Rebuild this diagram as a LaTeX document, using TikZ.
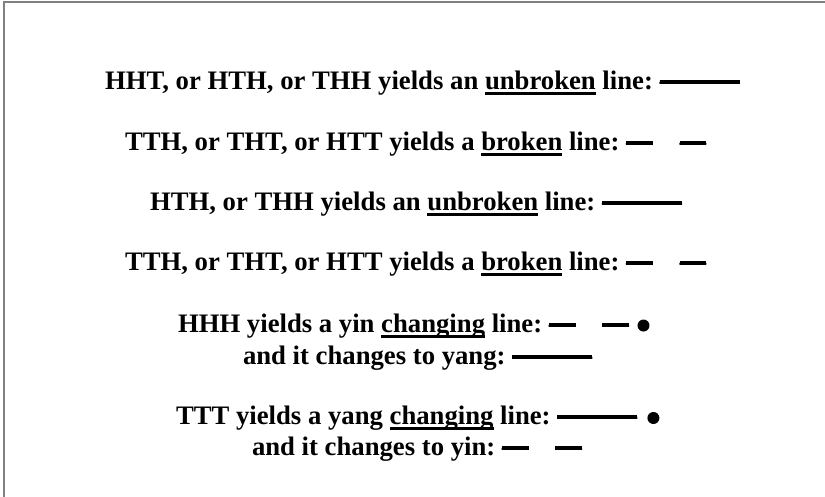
\documentclass[tikz,border=0pt]{standalone}
\usepackage{fontspec}
\setmainfont{Liberation Serif}
\frenchspacing
\newcommand\ulword[1]{\setbox0=\hbox{#1}\rlap{\rule[-6pt]{\wd0}{3pt}}\box0\relax}
\newcommand\emd{\rlap{\rule[5pt]{1em}{4pt}}—}
\begin{document}
\begin{tikzpicture}[x=1pt,y=-1pt,
  txt/.style={anchor=base west, inner sep=0pt, outer sep=0pt,
    font=\fontsize{26.7pt}{30pt}\selectfont\bfseries},
  dot/.style={circle, fill=black, inner sep=0pt, minimum size=12pt},
  frame/.style={draw=gray, line width=2pt}]
\useasboundingbox (0,0) rectangle (825,496);
\draw[frame] (4,498) -- (4,1.8) -- (827,1.8);
\node[txt] (l1) at (105,89) {HHT, or HTH, or THH yields an \ulword{unbroken} line: \emd\emd\emd};
\node[txt] (l2) at (125,150) {TTH, or THT, or HTT yields a \ulword{broken} line: \emd\hspace{1em}\emd};
\node[txt] (l3) at (150,210) {HTH, or THH yields an \ulword{unbroken} line: \emd\emd\emd};
\node[txt] (l4) at (125,270) {TTH, or THT, or HTT yields a \ulword{broken} line: \emd\hspace{1em}\emd};
\node[txt] (l5) at (178,332) {HHH yields a yin \ulword{changing} line: \emd\hspace{1em}\emd};
\node[dot] (d5) at ([xshift=14.5pt,yshift=6.5pt]l5.base east) {};
\node[txt] (l6) at (243,364) {and it changes to yang: \emd\emd\emd};
\node[txt] (l7) at (176,424) {TTT yields a yang \ulword{changing} line: \emd\emd\emd};
\node[dot] (d7) at ([xshift=16pt,yshift=6pt]l7.base east) {};
\node[txt] (l8) at (252,455) {and it changes to yin: \emd\hspace{1em}\emd};
\end{tikzpicture}
\end{document}
